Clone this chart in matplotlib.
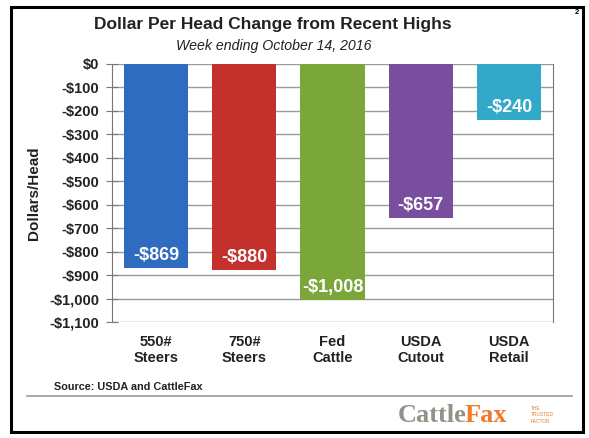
import matplotlib
matplotlib.use("Agg")
import matplotlib.pyplot as plt
from matplotlib.patches import Rectangle
from matplotlib.lines import Line2D

plt.rcParams["font.family"] = ["Liberation Sans", "DejaVu Sans"]

categories = ["550#\nSteers", "750#\nSteers", "Fed\nCattle", "USDA\nCutout", "USDA\nRetail"]
values = [-869, -880, -1008, -657, -240]
labels = ["-$869", "-$880", "-$1,008", "-$657", "-$240"]
colors = ["#2f6cc0", "#c4312d", "#7aa63a", "#7a4e9f", "#33a9c9"]
yticks = list(range(0, -1101, -100))

fig = plt.figure(figsize=(5.89, 4.38), dpi=100)
W, H = 589, 438

def fx(x): return x / W
def fy(y): return 1 - y / H

# outer frame
fig.add_artist(Rectangle((fx(11), fy(432)), fx(583) - fx(11), fy(7) - fy(432),
                         transform=fig.transFigure, fill=False, edgecolor="black", lw=2.2))

ax = fig.add_axes([fx(112), fy(322), fx(553) - fx(112), fy(64) - fy(322)])
x = range(len(categories))
ax.bar(x, values, width=0.73, color=colors, edgecolor="none", zorder=3)
for i, (v, lab) in enumerate(zip(values, labels)):
    ax.annotate(lab, (i, v), xytext=(0, 9), textcoords="offset points",
                ha="center", va="center", color="white", fontsize=13,
                fontweight="bold", zorder=4)

ax.set_ylim(-1100, 0)
ax.set_xlim(-0.5, len(categories) - 0.5)
ax.set_yticks(yticks)
ax.set_yticklabels([("$0" if t == 0 else "-${:,}".format(-t)) for t in yticks],
                   fontsize=10.5, fontweight="bold", color="#222222")
ax.yaxis.grid(True, color="#9a9a9a", lw=1, zorder=0)
ax.tick_params(axis="y", direction="inout", length=8, color="#777777", pad=5)
ax.set_xticks(list(x))
ax.set_xticklabels(categories, fontsize=10.5, fontweight="bold", color="#222222")
ax.tick_params(axis="x", length=0, pad=9)
for s in ["top", "bottom"]:
    ax.spines[s].set_visible(False)
for s in ["left", "right"]:
    ax.spines[s].set_color("#777777")
ax.set_ylabel("Dollars/Head", fontsize=11, fontweight="bold", color="#222222", labelpad=6)

fig.text(fx(273), fy(24), "Dollar Per Head Change from Recent Highs", ha="center", va="center",
         fontsize=12.5, fontweight="bold", color="#222222")
fig.text(fx(274), fy(46), "Week ending October 14, 2016", ha="center", va="center",
         fontsize=10.2, style="italic", color="#222222")
fig.text(fx(577), fy(13), "2", ha="center", va="center", fontsize=5.5, fontweight="bold")

fig.text(fx(54), fy(387), "Source: USDA and CattleFax", ha="left", va="center",
         fontsize=7.8, fontweight="bold", color="#222222")
fig.add_artist(Line2D([fx(27), fx(572)], [fy(396), fy(396)], transform=fig.transFigure,
                      color="#9a9a9a", lw=1.2))

fig.text(fx(398), fy(416), "Cattle", ha="left", va="center", fontsize=19, fontweight="bold",
         family="Liberation Serif", color="#8e9488")
fig.text(fx(465), fy(416), "Fax", ha="left", va="center", fontsize=19, fontweight="bold",
         family="Liberation Serif", color="#ee7a2a")
fig.text(fx(531), fy(415), "THE\nTRUSTED\nFACTOR", ha="left", va="center", fontsize=3.5,
         color="#ee7a2a", linespacing=1.4)

fig.savefig("out.png", dpi=100)
